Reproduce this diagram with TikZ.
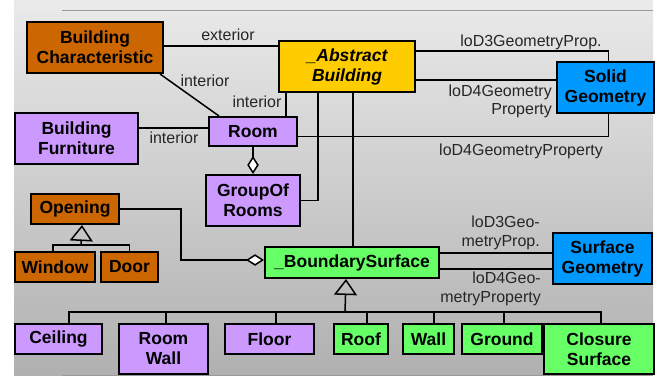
\documentclass[tikz,border=0pt]{standalone}
\usepackage{fontspec}
\setmainfont{Liberation Sans}
\usetikzlibrary{arrows.meta}
\definecolor{cOrange}{HTML}{CC6600}
\definecolor{cLav}{HTML}{CC99FF}
\definecolor{cYel}{HTML}{FFCC00}
\definecolor{cBlue}{HTML}{0099FF}
\definecolor{cGreen}{HTML}{66FF66}
\definecolor{cBgTop}{HTML}{E8E8E8}
\definecolor{cBgBot}{HTML}{B0B0B0}
\definecolor{cLbl}{HTML}{262626}
\tikzset{
  box/.style={draw=black, line width=2pt, inner sep=0pt, anchor=north west,
    align=center, font=\fontsize{17.5}{20}\selectfont\bfseries},
  conn/.style={draw=black, line width=1.5pt},
  lbl/.style={text=cLbl, inner sep=0pt, font=\fontsize{16}{17.5}\selectfont},
  agg/.style={conn, -{Diamond[open, fill=white, length=18pt, width=11.5pt, line width=1.5pt]}},
  gen/.style={conn, -{Triangle[open, length=16pt, width=23pt, line width=1.5pt]}},
}
\begin{document}
\begin{tikzpicture}[x=1pt,y=-1pt]
\useasboundingbox (0,0) rectangle (663,381);
% background
\fill[cBgTop!90!white] (14,0) rectangle (653,10);
\shade[top color=cBgTop, bottom color=cBgBot] (14,10) rectangle (653,375);
\draw[line width=1pt, black!40] (62,10) -- (653,10);
\draw[line width=1pt, black!40] (62,375) -- (653,375);

% nodes
\node[box, fill=cOrange, minimum width=136, minimum height=51] (bc) at (26,21) {Building\\Characteristic};
\node[box, fill=cLav, minimum width=123, minimum height=51] (bf) at (14,112) {Building\\Furniture};
\node[box, fill=cLav, minimum width=88, minimum height=29] (room) at (208,116) {Room};
\node[box, fill=cLav, minimum width=94, minimum height=51] (gor) at (205,174) {GroupOf\\Rooms};
\node[box, fill=cYel, minimum width=136, minimum height=51, font=\fontsize{17.5}{20}\selectfont\bfseries\itshape] (ab) at (278,40) {\_Abstract\\Building};
\node[box, fill=cBlue, minimum width=97, minimum height=51] (sg) at (556,61) {Solid\\Geometry};
\node[box, fill=cOrange, minimum width=88, minimum height=30] (op) at (30,193) {Opening};
\node[box, fill=cOrange, minimum width=80, minimum height=30] (win) at (14,251) {Window};
\node[box, fill=cOrange, minimum width=57, minimum height=30] (door) at (100,251) {Door};
\node[box, fill=cGreen, minimum width=174, minimum height=31] (bs) at (264,246) {\_BoundarySurface};
\node[box, fill=cBlue, minimum width=99, minimum height=51] (sfg) at (552,232) {Surface\\Geometry};
\node[box, fill=cLav, minimum width=87, minimum height=30] (ceil) at (14,323) {Ceiling};
\node[box, fill=cLav, minimum width=89, minimum height=50] (rw) at (118,323) {Room\\Wall};
\node[box, fill=cLav, minimum width=89, minimum height=30] (floor) at (224,323) {Floor};
\node[box, fill=cGreen, minimum width=54, minimum height=30] (roof) at (333,323) {Roof};
\node[box, fill=cGreen, minimum width=51, minimum height=30] (wall) at (402,323) {Wall};
\node[box, fill=cGreen, minimum width=80, minimum height=30] (ground) at (461,323) {Ground};
\node[box, fill=cGreen, minimum width=110, minimum height=50] (cs) at (543,323) {Closure\\Surface};

\coordinate (opj) at (81,245);
\coordinate (bsj) at (345,312);

% connectors
\draw[conn] ([yshift=1.5]bc.east) -- ([yshift=1.5]bc.east -| ab.west);
\draw[conn] ([xshift=-4]bc.south east) -- ([xshift=11]room.north west);
\draw[conn] ([xshift=-12]room.north east) -- ([xshift=-12]room.north east |- ab.south);
\draw[conn] ([yshift=3.5]room.west -| bf.east) -- ([yshift=3.5]room.west);
\draw[conn] ([yshift=-5]room.east) -| ([xshift=3]sg.south);
\draw[conn] ([yshift=15.5]ab.east) -| ([xshift=3]sg.north);
\draw[conn] ([yshift=-13.5]ab.east) -- ([yshift=-13.5]ab.east -| sg.west);
\draw[agg] (room.south) -- (gor.north);
\draw[conn] (gor.east) -| ([xshift=-29]ab.south);
\draw[conn] ([xshift=1]bs.north |- ab.south) -- ([xshift=1]bs.north);
\draw[agg] (op.east) -- ++(61,0) |- ([yshift=2.5]bs.west);
\draw[conn] ([yshift=9.5]bs.east) -- ([yshift=9.5]bs.east -| sfg.west);
\draw[conn] ([yshift=-6.5]bs.east) -- ([yshift=-6.5]bs.east -| sfg.west);

% opening generalization
\draw[conn] ([xshift=-2]win.north) |- (opj) -| (door.north);
\draw[gen] (opj) -- ([xshift=7]op.south);

% boundary surface generalization
\draw[conn] ([xshift=10.5]ceil.north) |- (bsj) -| ([xshift=2]cs.north);
\draw[conn] ([xshift=2.5]rw.north) -- ([xshift=2.5]rw.north |- bsj);
\draw[conn] ([xshift=6.5]floor.north) -- ([xshift=6.5]floor.north |- bsj);
\draw[conn] ([xshift=6]roof.north) -- ([xshift=6]roof.north |- bsj);
\draw[conn] ([xshift=5.5]wall.north) -- ([xshift=5.5]wall.north |- bsj);
\draw[conn] ([xshift=2]ground.north) -- ([xshift=2]ground.north |- bsj);
\draw[gen] (bsj) -- ([xshift=-6]bs.south);

% labels
\node[lbl] (l1) at (228,35) {exterior};
\node[lbl] (l2) at (205,81) {interior};
\node[lbl] (l3) at (257,102) {interior};
\node[lbl] (l4) at (174,138) {interior};
\node[lbl] (l5) at (521,151) {loD4GeometryProperty};
\node[lbl] (l6) at (531,42) {loD3GeometryProp.};
\node[lbl, align=right, anchor=east] (l7) at (552,101.5) {loD4Geometry\\Property};
\node[lbl, align=right, anchor=east, font=\fontsize{16}{19}\selectfont] (l8) at (540,232.5) {loD3Geo-\\metryProp.};
\node[lbl, align=right, anchor=east, font=\fontsize{16}{19}\selectfont] (l9) at (541,288.5) {loD4Geo-\\metryProperty};
\end{tikzpicture}
\end{document}
